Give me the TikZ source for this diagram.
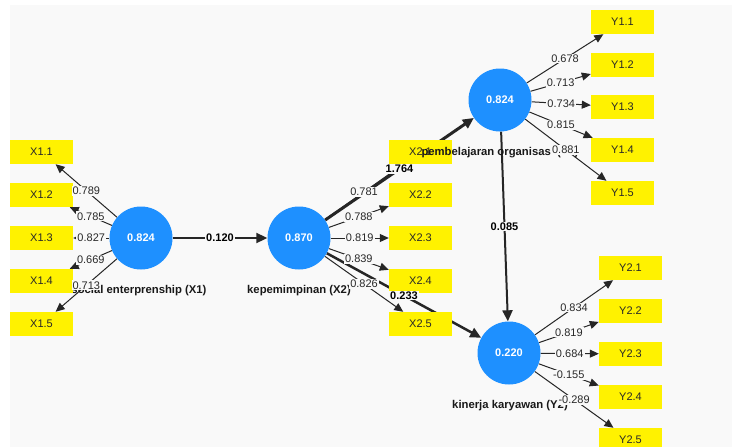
\documentclass[tikz,border=0pt]{standalone}
\usepackage{fontspec}
\setmainfont{Liberation Sans}
\usetikzlibrary{arrows.meta}
\definecolor{plsblue}{RGB}{30,144,255}
\definecolor{plsbg}{RGB}{249,249,249}
\definecolor{plstext}{RGB}{40,40,40}
\pgfdeclarelayer{canvas}
\pgfdeclarelayer{edges}
\pgfdeclarelayer{labels}
\pgfsetlayers{canvas,edges,main,labels}
\tikzset{
	latent/.style={circle, fill=plsblue, minimum size=63pt, inner sep=0pt, text=white, font=\fontsize{11}{13}\selectfont\bfseries},
	indicator/.style={rectangle, fill=yellow, minimum width=63pt, minimum height=24pt, inner sep=0pt, text=plstext, font=\fontsize{11}{13}\selectfont},
	lvname/.style={text=black!90, font=\fontsize{11.3}{13}\selectfont\bfseries},
	loading/.style={draw=black!85, line width=1pt, -{Triangle[length=9pt,width=8pt]}},
	structural/.style={draw=black!85, line width=2pt, -{Triangle[length=11pt,width=10pt]}},
	loadlbl/.style={fill=plsbg, inner sep=1pt, text=plstext, font=\fontsize{11}{13}\selectfont},
	coeflbl/.style={fill=plsbg, inner sep=1pt, text=black, font=\fontsize{11}{13}\selectfont\bfseries}
}

\begin{document}
\begin{tikzpicture}[x=1pt, y=-1pt]
			%%%%% START %%%%%
			
			\useasboundingbox (0, 0) rectangle (732, 447);
			\begin{pgfonlayer}{canvas}
			\fill[plsbg] (10, 5) rectangle (732, 447);
			\end{pgfonlayer}
			
			\node[latent] (x1) at (141, 238) {0.824};
			\node[latent] (x2) at (299, 238) {0.870};
			\node[latent] (y1) at (500, 100) {0.824};
			\node[latent] (y2) at (509, 353) {0.220};
			
			\node[lvname] (x1name) at (139, 291) {social enterprenship (X1)};
			\node[indicator] (x11) at (41.5, 152) {X1.1};
			\node[indicator] (x12) at (41.5, 195) {X1.2};
			\node[indicator] (x13) at (41.5, 238) {X1.3};
			\node[indicator] (x14) at (41.5, 281) {X1.4};
			\node[indicator] (x15) at (41.5, 324) {X1.5};
			
			\node[lvname] (x2name) at (299, 291) {kepemimpinan (X2)};
			\node[indicator] (x21) at (420.5, 152) {X2.1};
			\node[indicator] (x22) at (420.5, 195) {X2.2};
			\node[indicator] (x23) at (420.5, 238) {X2.3};
			\node[indicator] (x24) at (420.5, 281) {X2.4};
			\node[indicator] (x25) at (420.5, 324) {X2.5};
			
			\node[lvname] (y1name) at (500, 153) {pembelajaran organisasi (Y1)};
			\node[indicator] (y11) at (622.5, 22) {Y1.1};
			\node[indicator] (y12) at (622.5, 65) {Y1.2};
			\node[indicator] (y13) at (622.5, 107) {Y1.3};
			\node[indicator] (y14) at (622.5, 150) {Y1.4};
			\node[indicator] (y15) at (622.5, 193) {Y1.5};
			
			\node[lvname] (y2name) at (510, 406) {kinerja karyawan (Y2)};
			\node[indicator] (y21) at (630.5, 268) {Y2.1};
			\node[indicator] (y22) at (630.5, 311) {Y2.2};
			\node[indicator] (y23) at (630.5, 354) {Y2.3};
			\node[indicator] (y24) at (630.5, 397) {Y2.4};
			\node[indicator] (y25) at (630.5, 440) {Y2.5};
			
			\begin{pgfonlayer}{edges}
			\draw[loading] (x1) -- coordinate[midway] (e11) (x11);
			\draw[loading] (x1) -- coordinate[midway] (e12) (x12);
			\draw[loading] (x1) -- coordinate[midway] (e13) (x13);
			\draw[loading] (x1) -- coordinate[midway] (e14) (x14);
			\draw[loading] (x1) -- coordinate[midway] (e15) (x15);
			
			\draw[loading] (x2) -- coordinate[midway] (e21) (x21);
			\draw[loading] (x2) -- coordinate[midway] (e22) (x22);
			\draw[loading] (x2) -- coordinate[midway] (e23) (x23);
			\draw[loading] (x2) -- coordinate[midway] (e24) (x24);
			\draw[loading] (x2) -- coordinate[midway] (e25) (x25);
			
			\draw[loading] (y1) -- coordinate[midway] (f11) (y11);
			\draw[loading] (y1) -- coordinate[midway] (f12) (y12);
			\draw[loading] (y1) -- coordinate[midway] (f13) (y13);
			\draw[loading] (y1) -- coordinate[midway] (f14) (y14);
			\draw[loading] (y1) -- coordinate[midway] (f15) (y15);
			
			\draw[loading] (y2) -- coordinate[midway] (f21) (y21);
			\draw[loading] (y2) -- coordinate[midway] (f22) (y22);
			\draw[loading] (y2) -- coordinate[midway] (f23) (y23);
			\draw[loading] (y2) -- coordinate[midway] (f24) (y24);
			\draw[loading] (y2) -- coordinate[midway] (f25) (y25);
			
			\draw[structural] (x1) -- coordinate[midway] (px1x2) (x2);
			\draw[structural, line width=3pt] (x2) -- coordinate[midway] (px2y1) (y1);
			\draw[structural, line width=2.5pt] (x2) -- coordinate[midway] (px2y2) (y2);
			\draw[structural] (y1) -- coordinate[midway] (py1y2) (y2);
			\end{pgfonlayer}
			
			\begin{pgfonlayer}{labels}
			\node[loadlbl] (l11) at (e11) {0.789};
			\node[loadlbl] (l12) at (e12) {0.785};
			\node[loadlbl] (l13) at (e13) {0.827};
			\node[loadlbl] (l14) at (e14) {0.669};
			\node[loadlbl] (l15) at (e15) {0.713};
			
			\node[loadlbl] (l21) at (e21) {0.781};
			\node[loadlbl] (l22) at (e22) {0.788};
			\node[loadlbl] (l23) at (e23) {0.819};
			\node[loadlbl] (l24) at (e24) {0.839};
			\node[loadlbl] (l25) at (e25) {0.826};
			
			\node[loadlbl] (m11) at (f11) {0.678};
			\node[loadlbl] (m12) at (f12) {0.713};
			\node[loadlbl] (m13) at (f13) {0.734};
			\node[loadlbl] (m14) at (f14) {0.815};
			\node[loadlbl] (m15) at (f15) {0.881};
			
			\node[loadlbl] (m21) at (f21) {0.834};
			\node[loadlbl] (m22) at (f22) {0.819};
			\node[loadlbl] (m23) at (f23) {0.684};
			\node[loadlbl] (m24) at (f24) {-0.155};
			\node[loadlbl] (m25) at (f25) {-0.289};
			
			\node[coeflbl] (cx1x2) at (px1x2) {0.120};
			\node[coeflbl] (cx2y1) at (px2y1) {1.764};
			\node[coeflbl] (cx2y2) at (px2y2) {0.233};
			\node[coeflbl] (cy1y2) at (py1y2) {0.085};
			\end{pgfonlayer}
			
			%%%%% END %%%%%
\end{tikzpicture}
\end{document}
